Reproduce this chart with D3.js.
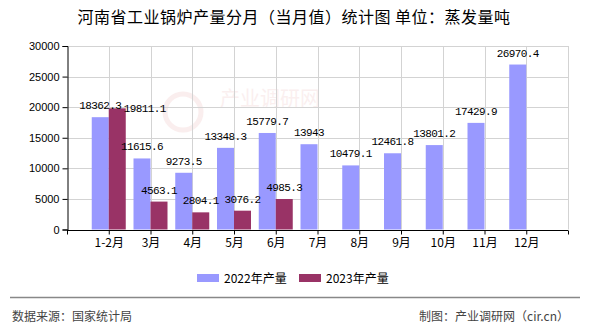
<!DOCTYPE html>
<html><head><meta charset="utf-8">
<script src="https://cdn.jsdelivr.net/npm/d3@7"></script>
<style>
html,body{margin:0;padding:0;background:#fff;}
svg{display:block;}
</style></head>
<body><svg id="c" width="590" height="330"></svg>
<script>
const categories = ["1-2月","3月","4月","5月","6月","7月","8月","9月","10月","11月","12月"];
const values2022 = [18362.3,11615.6,9273.5,13348.3,15779.7,13943,10479.1,12461.8,13801.2,17429.9,26970.4];
const values2023 = [19811.1,4563.1,2804.1,3076.2,4985.3,null,null,null,null,null,null];
const seriesNames = ["2022年产量","2023年产量"];
const seriesColors = ["#9999ff","#993366"];
const yTicks = [0,5000,10000,15000,20000,25000,30000];
const titleText = "河南省工业锅炉产量分月（当月值）统计图 单位：蒸发量吨";
const sourceText = "数据来源：国家统计局";
const creditText = "制图：产业调研网（cir.cn）";

const svg = d3.select("#c");
const L = 67, R = 568, T = 46, B = 229.5;
const nSlots = categories.length + 1;
const x = d3.scaleLinear().domain([0, nSlots]).range([L, R]);
const y = d3.scaleLinear().domain([0, 30000]).range([B, T]);
const barW = 17;
const cjk = "'Noto Sans CJK SC','Noto Sans',sans-serif";

// watermark (faint)
const wm = svg.append("g").attr("opacity", 0.35);
wm.append("circle").attr("cx", 183).attr("cy", 112).attr("r", 18).attr("fill", "none").attr("stroke", "#f3cfcf").attr("stroke-width", 5);
wm.append("text").attr("x", 220).attr("y", 106).attr("font-family", cjk).attr("font-size", 20).attr("fill", "#f3d3d3").text("产业调研网");

// grid
const grid = svg.append("g").attr("stroke", "#d3d3d3").attr("stroke-width", 1);
yTicks.forEach(t => grid.append("line").attr("x1", L).attr("x2", R).attr("y1", Math.round(y(t)) + 0.5).attr("y2", Math.round(y(t)) + 0.5));
d3.range(1, nSlots + 1).forEach(i => grid.append("line").attr("x1", Math.round(x(i)) + 0.5).attr("x2", Math.round(x(i)) + 0.5).attr("y1", T).attr("y2", B));

// bars
const bars = svg.append("g");
categories.forEach((c, i) => {
  const cx = x(i + 1);
  if (values2022[i] != null) bars.append("rect").attr("x", cx - barW).attr("width", barW).attr("y", y(values2022[i])).attr("height", y(0) - y(values2022[i])).attr("fill", seriesColors[0]);
  if (values2023[i] != null) bars.append("rect").attr("x", cx).attr("width", barW).attr("y", y(values2023[i])).attr("height", y(0) - y(values2023[i])).attr("fill", seriesColors[1]);
});

// axes
const yAxis = d3.axisLeft(y).tickValues(yTicks).tickSize(5).tickPadding(3).tickFormat(d3.format("d"));
const gy = svg.append("g").attr("transform", `translate(${Math.round(L)+0.5},0)`).call(yAxis);
gy.selectAll("text").attr("font-family", "'Liberation Sans',Arial,sans-serif").attr("font-size", 11).attr("fill", "#000");
gy.selectAll("line,path").attr("stroke", "#000");

const xAxis = d3.axisBottom(x).tickValues(d3.range(0, nSlots + 1)).tickSize(4).tickPadding(4)
  .tickFormat(d => (d >= 1 && d <= categories.length) ? categories[d - 1] : "");
const gx = svg.append("g").attr("transform", `translate(0,${Math.round(B)+0.5})`).call(xAxis);
gx.select(".domain").attr("d", `M${L},0H${R}`);
gx.selectAll("text").attr("font-family", cjk).attr("font-size", 12).attr("fill", "#000");
gx.selectAll("line,path").attr("stroke", "#000");

// labels
const lab = svg.append("g").attr("font-family", "'Liberation Mono','DejaVu Sans Mono',monospace").attr("font-size", 11).attr("letter-spacing", "-0.6px").attr("fill", "#000").attr("text-anchor", "middle");
categories.forEach((c, i) => {
  const cx = x(i + 1);
  let r1 = null;
  if (values2022[i] != null) {
    const t = lab.append("text").attr("x", cx - barW / 2).attr("y", y(values2022[i]) - 8).text(values2022[i]);
    const bb = t.node().getBBox();
    r1 = bb.x + bb.width;
  }
  if (values2023[i] != null) {
    const t = lab.append("text").attr("x", cx + barW / 2).attr("y", y(values2023[i]) - 8).text(values2023[i]);
    const bb = t.node().getBBox();
    const t1y = y(values2022[i]) - 8;
    if (r1 != null && bb.x < r1 && Math.abs(t1y - (y(values2023[i]) - 8)) < 12) {
      t.attr("x", r1 + 2 + bb.width / 2).attr("y", y(values2023[i]) + 4);
    }
  }
});

// title
svg.append("text").attr("x", 294).attr("y", 23).attr("text-anchor", "middle").attr("font-family", cjk).attr("font-size", 16).attr("letter-spacing", "0.5px").attr("fill", "#000").text(titleText);

// legend
const leg = svg.append("g");
const legX = [197, 299];
seriesNames.forEach((s, k) => {
  leg.append("rect").attr("x", legX[k]).attr("y", 274).attr("width", 22).attr("height", 8).attr("fill", seriesColors[k]);
  leg.append("text").attr("x", legX[k] + 27).attr("y", 282.5).attr("font-family", cjk).attr("font-size", 12).attr("fill", "#000").text(s);
});

// footer
svg.append("line").attr("x1", 10).attr("x2", 580).attr("y1", 297.5).attr("y2", 297.5).attr("stroke", "#888").attr("stroke-width", 1.5);
svg.append("text").attr("x", 12).attr("y", 321).attr("font-family", cjk).attr("font-size", 12).attr("fill", "#444").text(sourceText);
svg.append("text").attr("x", 569).attr("y", 321).attr("text-anchor", "end").attr("font-family", cjk).attr("font-size", 12).attr("fill", "#444").text(creditText);
</script></body></html>
